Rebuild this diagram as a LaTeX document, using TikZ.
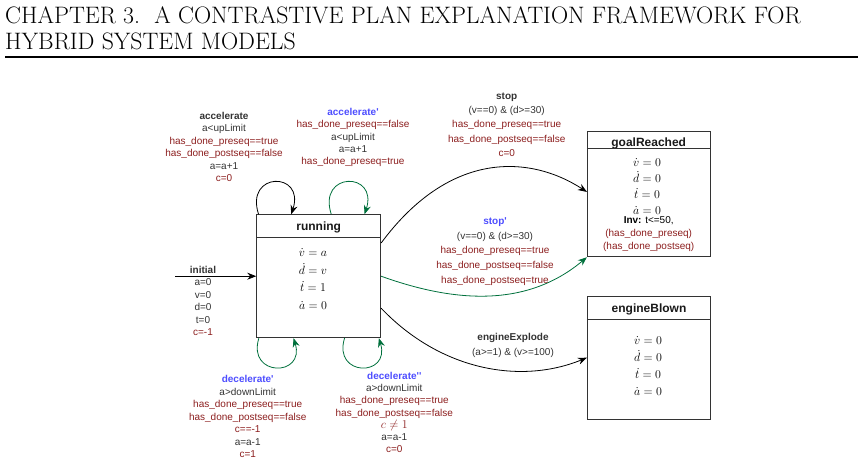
\documentclass[tikz,border=0pt]{standalone}
\usepackage{fontspec}
\newfontfamily\labfont{Liberation Sans}
\usetikzlibrary{arrows.meta}

\definecolor{hdred}{HTML}{8C1E1E}
\definecolor{primeblue}{HTML}{4D4DFF}
\definecolor{loopgreen}{HTML}{00703C}
\definecolor{txtgray}{HTML}{333333}

\newcommand{\redln}[1]{\textcolor{hdred}{#1}}
\newcommand{\blueln}[1]{\textcolor{primeblue}{\textbf{#1}}}
\newcommand{\tick}{\textquotesingle}

\begin{document}
\begin{tikzpicture}[x=1pt,y=-1pt,>={Stealth[length=9pt,width=7pt,inset=3pt]}]

% --- Styles ---
\tikzset{
    chaptitle/.style={
        font=\fontsize{23.8}{26}\selectfont,
        anchor=base west,
        inner sep=0pt
    },
    statebox/.style={
        draw=txtgray,
        line width=0.9pt,
        inner sep=0pt,
        font=\labfont\bfseries\fontsize{12}{14}\selectfont,
        text=black!90
    },
    divider/.style={
        draw=txtgray,
        line width=0.9pt
    },
    flow/.style={
        font=\fontsize{12}{17.5}\selectfont,
        align=center,
        inner sep=0pt
    },
    guard/.style={
        font=\labfont\fontsize{10}{12.4}\selectfont,
        align=center,
        text=txtgray,
        inner sep=0pt
    },
    trans/.style={
        ->,
        draw=black,
        line width=0.8pt
    },
    transprime/.style={
        ->,
        draw=loopgreen,
        line width=0.8pt
    }
}

\useasboundingbox (0,0) rectangle (864,464);

% ==================================================
% --- Page head ---
% ==================================================

\node[chaptitle] (headA) at (5,23)
    {CHAPTER 3.\ \ A CONTRASTIVE PLAN EXPLANATION FRAMEWORK FOR};
\node[chaptitle] (headB) at (5,49) {HYBRID SYSTEM MODELS};
\draw[line width=1.6pt] (5,57) -- (858,57);

% ==================================================
% --- States ---
% ==================================================

% running
\node[statebox, minimum width=124pt, text height=15.3pt, text depth=107.7pt]
    (running) at (318.7,276.2) {running};
\draw[divider] ([yshift=-23.6pt]running.north west)
    -- ([yshift=-23.6pt]running.north east);
\node[flow] (runningF) at (313,279)
    {$\dot v = a$\\ $\dot d = v$\\ $\dot t = 1$\\ $\dot a = 0$};

% goalReached
\node[statebox, minimum width=122.7pt, text height=15.3pt, text depth=110.4pt]
    (goalReached) at (648.7,193.9) {goalReached};
\draw[divider] ([yshift=-18.3pt]goalReached.north west)
    -- ([yshift=-18.3pt]goalReached.north east);
\node[flow, font=\fontsize{12}{16}\selectfont] (goalF) at (647,187)
    {$\dot v = 0$\\ $\dot d = 0$\\ $\dot t = 0$\\ $\dot a = 0$};
\node[guard, text=black, font=\labfont\fontsize{10}{12.6}\selectfont]
    (goalInv) at (648.7,234)
    {\textbf{Inv:} t<=50,\\ \redln{(has\_done\_preseq)}\\
     \redln{(has\_done\_postseq)}};

% engineBlown
\node[statebox, minimum width=123.4pt, text height=16.7pt, text depth=106.6pt]
    (engineBlown) at (649,357.7) {engineBlown};
\draw[divider] ([yshift=-24pt]engineBlown.north west)
    -- ([yshift=-24pt]engineBlown.north east);
\node[flow, font=\fontsize{12}{17.2}\selectfont] (engineF) at (648,366)
    {$\dot v = 0$\\ $\dot d = 0$\\ $\dot t = 0$\\ $\dot a = 0$};

% ==================================================
% --- Initial edge ---
% ==================================================

\coordinate (initStart) at (175,276.2);
\draw[trans] (initStart) -- (running.west);
\node[guard] (initL) at (203,301)
    {\textbf{initial}\\ a=0\\ v=0\\ d=0\\ t=0\\ \redln{c=-1}};

% ==================================================
% --- Self loops ---
% ==================================================

% accelerate
\draw[trans]
    ([xshift=2.3pt]running.north west)
    .. controls +(-14,-43) and +(14,-43) ..
    ([xshift=35pt]running.north west);
\node[guard] (accL) at (224,147)
    {\textbf{accelerate}\\ a<upLimit\\ \redln{has\_done\_preseq==true}\\
     \redln{has\_done\_postseq==false}\\ a=a+1\\ \redln{c=0}};

% accelerate'
\draw[transprime]
    ([xshift=75pt]running.north west)
    .. controls +(-14,-43) and +(14,-43) ..
    ([xshift=108.3pt]running.north west);
\node[guard, font=\labfont\fontsize{10}{12.25}\selectfont] (accPL) at (353,137.5)
    {\blueln{accelerate\tick}\\ \redln{has\_done\_preseq==false}\\ a<upLimit\\
     a=a+1\\ \redln{has\_done\_preseq=true}};

% decelerate'
\draw[transprime]
    ([xshift=2.6pt]running.south west)
    .. controls +(-12,39) and +(12,39) ..
    ([xshift=37.3pt]running.south west);
\node[guard, font=\labfont\fontsize{10}{12.45}\selectfont] (decPL) at (247.7,416.7)
    {\blueln{decelerate\tick}\\ a>downLimit\\ \redln{has\_done\_preseq==true}\\
     \redln{has\_done\_postseq==false}\\ \redln{c==-1}\\ a=a-1\\ \redln{c=1}};

% decelerate''
\draw[transprime]
    ([xshift=88.3pt]running.south west)
    .. controls +(-12,39) and +(12,39) ..
    ([xshift=122.6pt]running.south west);
\node[guard, font=\labfont\fontsize{10}{12.27}\selectfont] (decPPL) at (394.3,412.5)
    {\blueln{decelerate\tick\tick}\\ a>downLimit\\ \redln{has\_done\_preseq==true}\\
     \redln{has\_done\_postseq==false}\\ \redln{\fontsize{12}{12}\selectfont$c\neq 1$}\\
     a=a-1\\ \redln{c=0}};

% ==================================================
% --- Edges to goal and blown states ---
% ==================================================

% stop
\draw[trans]
    ([yshift=33.2pt]running.east)
    .. controls (450,150) and (530,155) ..
    ([yshift=2pt]goalReached.west);
\node[guard, font=\labfont\fontsize{10}{14.3}\selectfont] (stopL) at (506.7,124.7)
    {\textbf{stop}\\ (v==0) \& (d>=30)\\ \redln{has\_done\_preseq==true}\\
     \redln{has\_done\_postseq==false}\\ \redln{c=0}};

% stop'
\draw[transprime]
    (running.east)
    .. controls (461,305) and (530,305) ..
    (goalReached.south west);
\node[guard, font=\labfont\fontsize{10}{14.6}\selectfont] (stopPL) at (495,251.5)
    {\blueln{stop\tick}\\ (v==0) \& (d>=30)\\ \redln{has\_done\_preseq==true}\\
     \redln{has\_done\_postseq==false}\\ \redln{has\_done\_postseq=true}};

% engineExplode
\draw[trans]
    ([yshift=-32pt]running.east)
    .. controls (440,370) and (520,385) ..
    (engineBlown.west);
\node[guard, font=\labfont\fontsize{10}{15.6}\selectfont] (explL) at (513,345.5)
    {\textbf{engineExplode}\\ (a>=1) \& (v>=100)};

\end{tikzpicture}
\end{document}
